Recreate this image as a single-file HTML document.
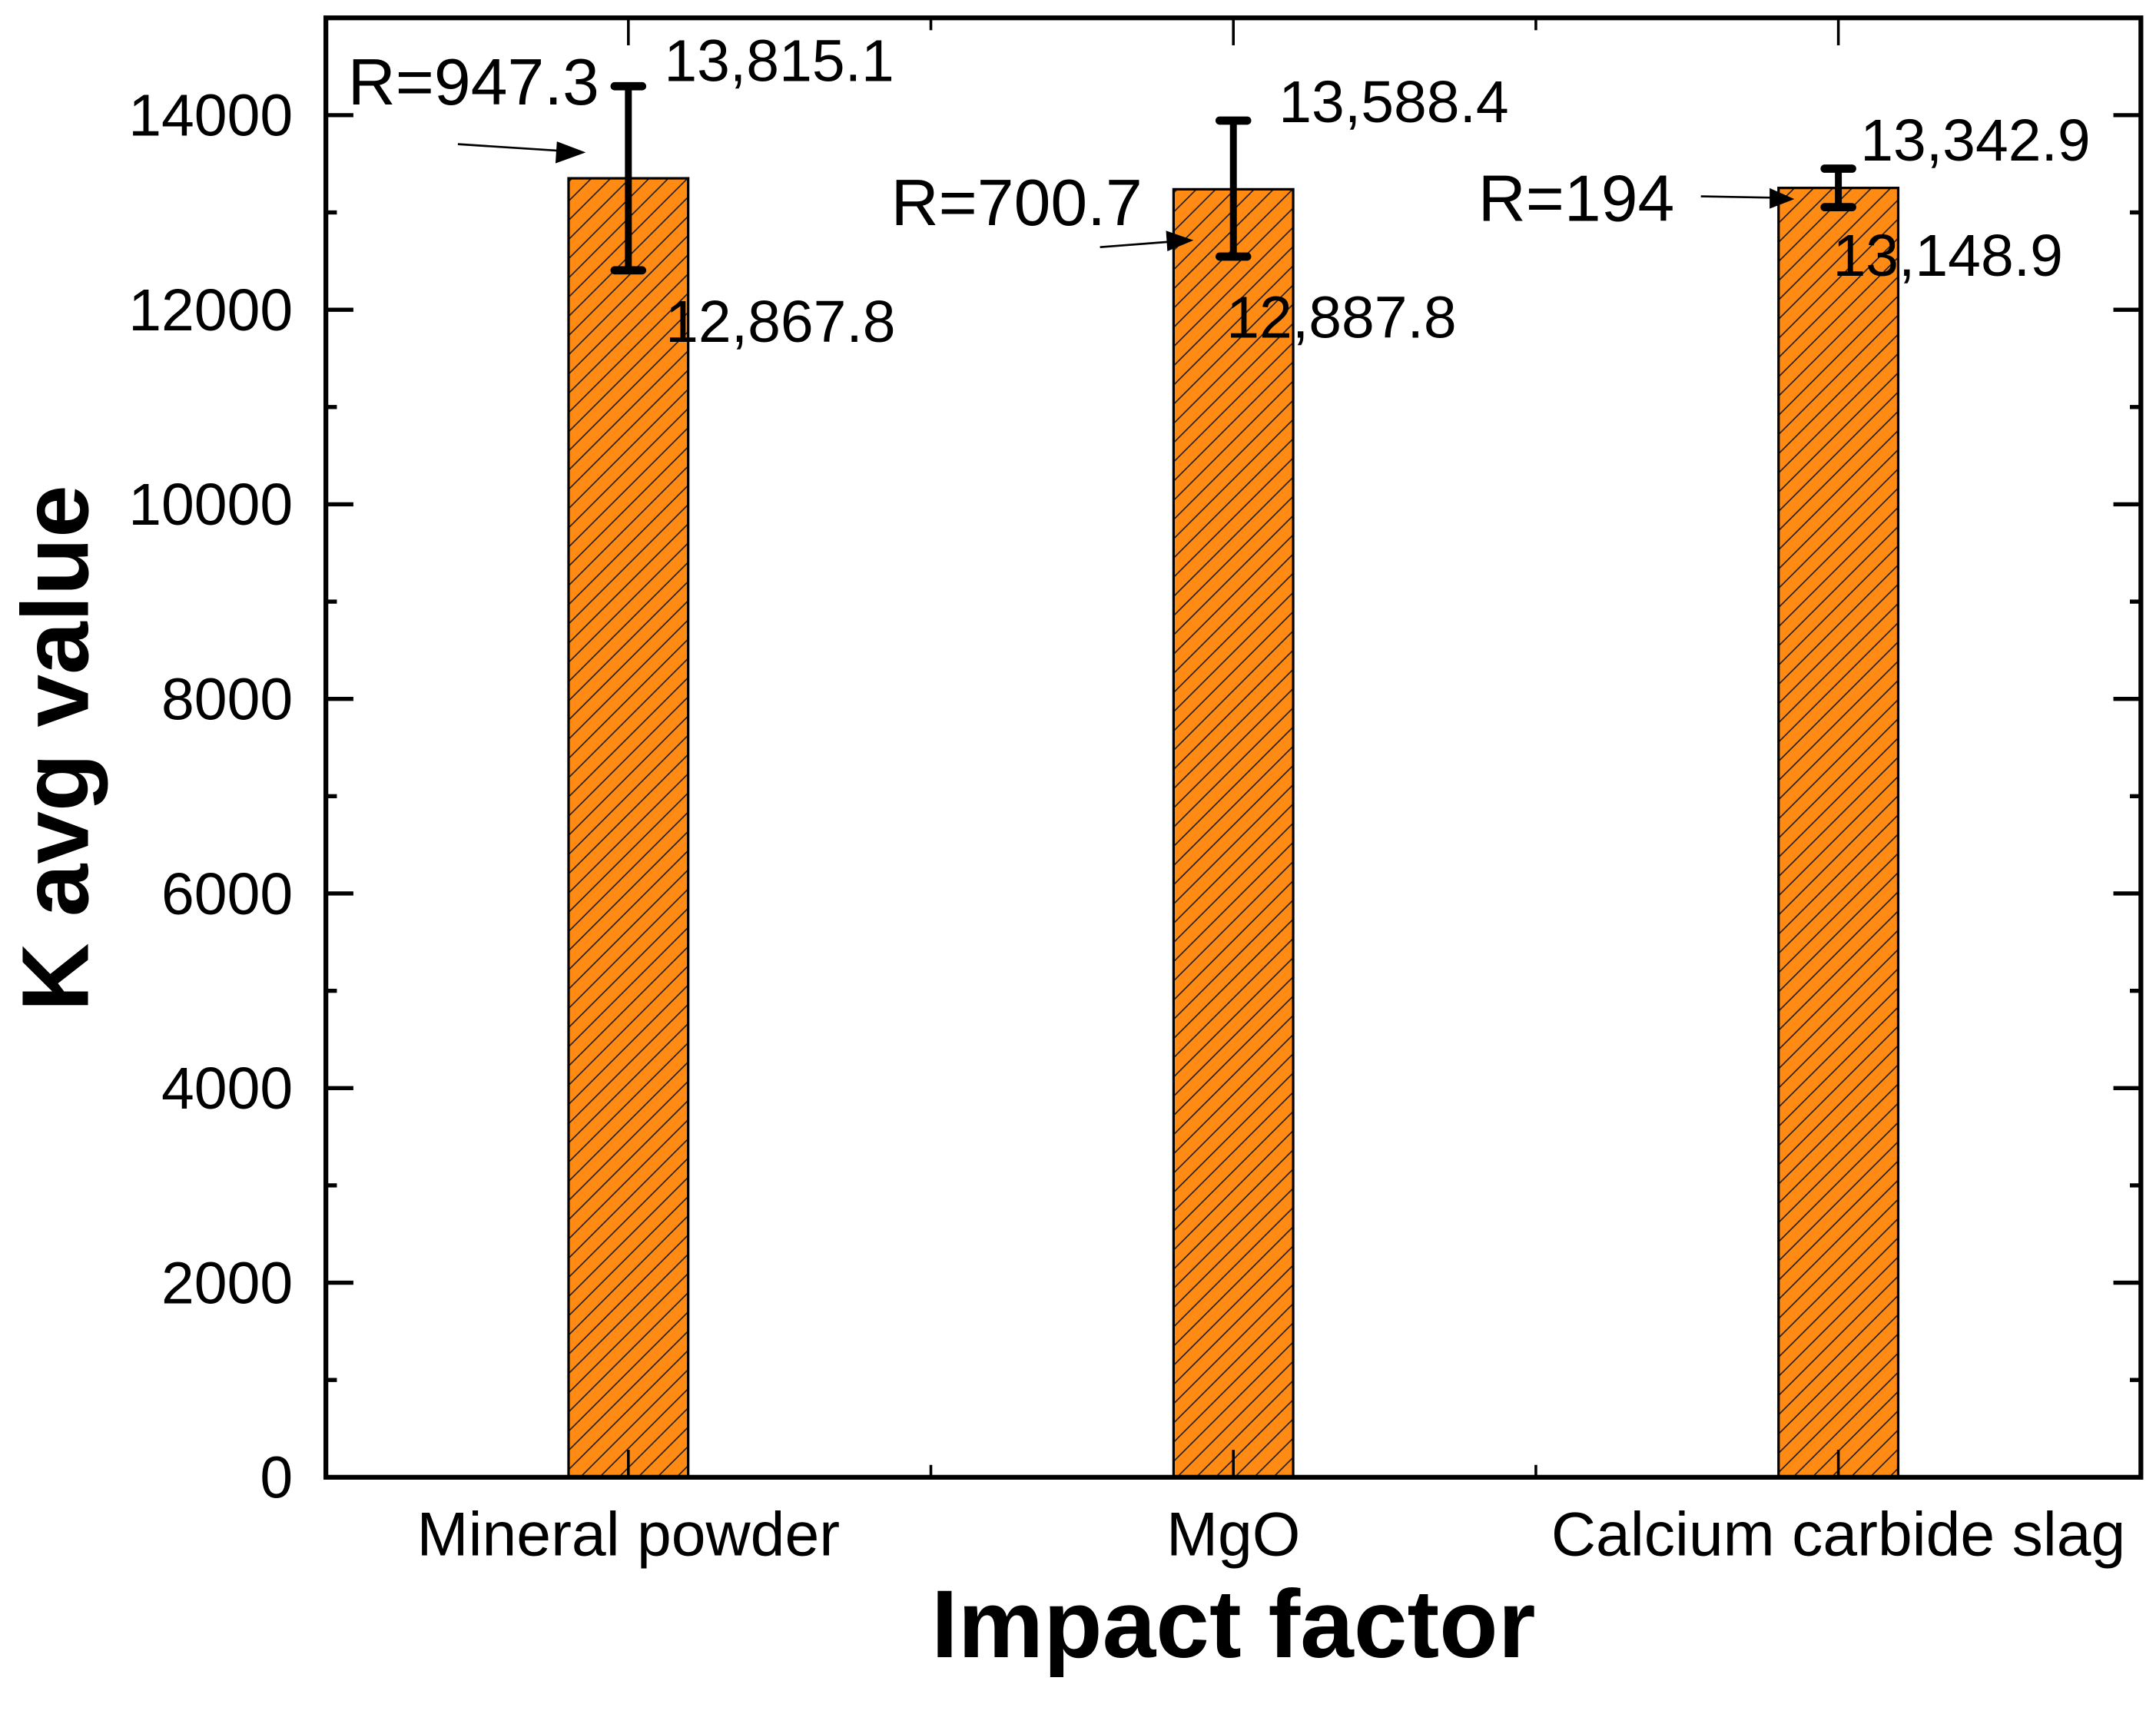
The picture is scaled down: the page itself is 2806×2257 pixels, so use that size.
<!DOCTYPE html>
<html><head><meta charset="utf-8"><style>
html,body{margin:0;padding:0;background:#fff;}
svg{display:block;font-family:"Liberation Sans",Arial,sans-serif;}
</style></head><body>
<svg id="chart" width="2806" height="2257" viewBox="0 0 1568 1263" preserveAspectRatio="none" xmlns="http://www.w3.org/2000/svg">
<defs>
<pattern id="hatch" patternUnits="userSpaceOnUse" width="14" height="14">
<rect width="14" height="14" fill="#FF8A14"/>
<path d="M-1,15 L15,-1 M-3,3 L3,-3 M11,17 L17,11" stroke="#1a1a1a" stroke-width="0.9"/>
</pattern>
</defs>
<g id="marks"></g>
<g id="axes"></g>
<g id="annot" font-size="43" fill="#000">
<text x="253" y="76" font-size="48">R=947.3</text>
<text x="483" y="59">13,815.1</text>
<text x="484" y="249">12,867.8</text>
<text x="648" y="164" font-size="48">R=700.7</text>
<text x="930" y="89">13,588.4</text>
<text x="892" y="246">12,887.8</text>
<text x="1075" y="161" font-size="48">R=194</text>
<text x="1353" y="117">13,342.9</text>
<text x="1333" y="201">13,148.9</text>
<g><line x1="333" y1="105" x2="410" y2="110" stroke="#000" stroke-width="1.5"/><polygon points="426,111 405,103 404,119" fill="#000"/></g>
<g><line x1="800" y1="180" x2="852" y2="176" stroke="#000" stroke-width="1.5"/><polygon points="868,175 848,168 849,183" fill="#000"/></g>
<g><line x1="1237" y1="143" x2="1290" y2="144" stroke="#000" stroke-width="1.5"/><polygon points="1305,145 1287,137 1287,152" fill="#000"/></g>
</g>
<text transform="translate(64,545) rotate(-90)" text-anchor="middle" font-size="69" font-weight="bold">K avg value</text>
<text x="897" y="1207" text-anchor="middle" font-size="70" font-weight="bold">Impact factor</text>
</svg>
<script>
const categories = ["Mineral powder", "MgO", "Calcium carbide slag"];
const meanValues = [13351, 13238, 13252];
const errUpper = [14297, 13944, 13450];
const errLower = [12405, 12546, 13054];
const yTicks = [0, 2000, 4000, 6000, 8000, 10000, 12000, 14000];

const NS = "http://www.w3.org/2000/svg";
const L = 237, R = 1557, T = 13, B = 1076, YMAX = 15000;
const yS = v => B - (v / YMAX) * (B - T);
const xS = i => 457 + i * 440;
const BW = 87;
function mk(tag, attrs, parent) {
  const e = document.createElementNS(NS, tag);
  for (const k in attrs) e.setAttribute(k, attrs[k]);
  parent.appendChild(e);
  return e;
}
const marks = document.getElementById("marks");
const axes = document.getElementById("axes");
categories.forEach((c, i) => {
  const x = xS(i);
  const bar = mk("rect", {x: x - BW / 2, y: yS(meanValues[i]), width: BW, height: B - yS(meanValues[i]), fill: "url(#hatch)", stroke: "#000", "stroke-width": 1.8}, marks);
  
  
  const eb = mk("g", {stroke: "#000", "stroke-width": 5, "stroke-linecap": "round"}, marks);
  
  
  mk("line", {x1: x, x2: x, y1: yS(errUpper[i]), y2: yS(errLower[i])}, eb);
  mk("line", {x1: x - 10, x2: x + 10, y1: yS(errUpper[i]), y2: yS(errUpper[i]), "stroke-width": 6}, eb);
  mk("line", {x1: x - 10, x2: x + 10, y1: yS(errLower[i]), y2: yS(errLower[i]), "stroke-width": 6}, eb);
  const t = mk("text", {x: x, y: 1133, "text-anchor": "middle", "font-size": 45}, axes);
  t.textContent = c;
  
  
  mk("line", {x1: x, x2: x, y1: B, y2: B - 20, stroke: "#000", "stroke-width": 2}, axes);
  mk("line", {x1: x, x2: x, y1: T, y2: T + 20, stroke: "#000", "stroke-width": 2}, axes);
  if (i < categories.length - 1) {
    const xm = x + 220;
    mk("line", {x1: xm, x2: xm, y1: B, y2: B - 9, stroke: "#000", "stroke-width": 2}, axes);
    mk("line", {x1: xm, x2: xm, y1: T, y2: T + 9, stroke: "#000", "stroke-width": 2}, axes);
  }
});
yTicks.forEach(v => {
  const y = yS(v);
  mk("line", {x1: L, x2: L + 20, y1: y, y2: y, stroke: "#000", "stroke-width": 3}, axes);
  mk("line", {x1: R, x2: R - 20, y1: y, y2: y, stroke: "#000", "stroke-width": 3}, axes);
  const ym = yS(v + 1000);
  mk("line", {x1: L, x2: L + 8, y1: ym, y2: ym, stroke: "#000", "stroke-width": 3}, axes);
  mk("line", {x1: R, x2: R - 8, y1: ym, y2: ym, stroke: "#000", "stroke-width": 3}, axes);
  const t = mk("text", {x: 213, y: y + 15, "text-anchor": "end", "font-size": 43}, axes);
  t.textContent = v;
  
  
});
const frame = mk("rect", {x: L, y: T, width: R - L, height: B - T, fill: "none", stroke: "#000", "stroke-width": 3.5}, axes);


</script>
</body></html>
